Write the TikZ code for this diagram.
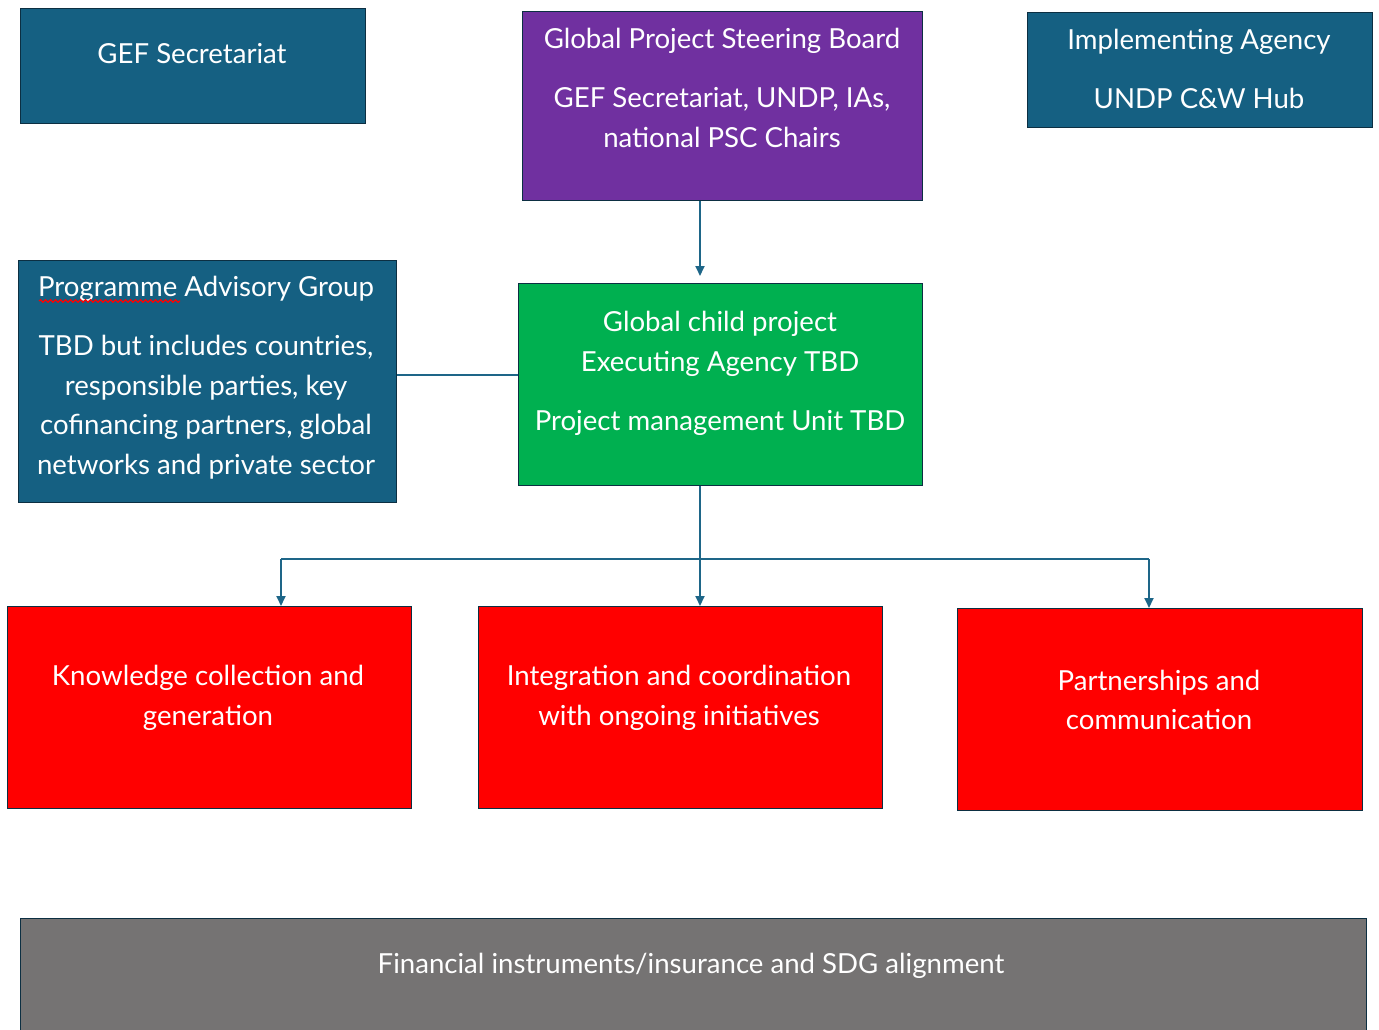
\documentclass[tikz,border=0pt]{standalone}
\usepackage{fontspec}
\setmainfont{Lato}
\usetikzlibrary{arrows.meta,decorations.pathmorphing}
\definecolor{bluebox}{HTML}{156082}
\definecolor{purplebox}{HTML}{7030A0}
\definecolor{greenbox}{HTML}{00B050}
\definecolor{redbox}{HTML}{FF0000}
\definecolor{graybox}{HTML}{757373}
\definecolor{outl}{HTML}{0C2F42}
\definecolor{conncol}{HTML}{1E6688}
\begin{document}
\begin{tikzpicture}[x=1pt,y=-1pt,
  box/.style={draw=outl, line width=1.4pt, inner sep=0pt, anchor=north west},
  txt/.style={text=white, font=\fontsize{27.6}{39.5}\selectfont, align=center, inner sep=0pt},
  conn/.style={draw=conncol, line width=1.8pt},
  arr/.style={conn, -{Triangle[length=10pt,width=9pt]}}]
\useasboundingbox (0,0) rectangle (1379,1030);
\clip (0,0) rectangle (1379,1030);
% boxes
\node[box, fill=bluebox, minimum width=345pt, minimum height=115pt] (gef) at (20,8) {};
\node[box, fill=purplebox, minimum width=400pt, minimum height=189pt] (steer) at (522,11) {};
\node[box, fill=bluebox, minimum width=345pt, minimum height=115pt] (impl) at (1027,12) {};
\node[box, fill=bluebox, minimum width=378pt, minimum height=242pt] (pag) at (18,260) {};
\node[box, fill=greenbox, minimum width=404pt, minimum height=202pt] (green) at (518,283) {};
\node[box, fill=redbox, minimum width=404pt, minimum height=202pt] (red1) at (7,606) {};
\node[box, fill=redbox, minimum width=404pt, minimum height=202pt] (red2) at (478,606) {};
\node[box, fill=redbox, minimum width=405pt, minimum height=202pt] (red3) at (957,608) {};
\node[box, fill=graybox, minimum width=1346pt, minimum height=130pt] (fin) at (20,918) {};
% texts
\node[txt] (geft) at (192,54) {GEF Secretariat};
\node[txt] (steert) at (722,88) {Global Project Steering Board\\[19.5pt]GEF Secretariat, UNDP, IAs,\\national PSC Chairs};
\node[txt] (implt) at (1199,68.5) {Implementing Agency\\[19.5pt]UNDP C\&W Hub};
\node[txt] (pagt) at (206,377.5) {Programme Advisory Group\\[19.5pt]TBD but includes countries,\\responsible parties, key\\cofinancing partners, global\\networks and private sector};
\node[txt] (greent) at (720,373.5) {Global child project\\Executing Agency TBD\\[19.5pt]Project management Unit TBD};
\node[txt] (red1t) at (208,698) {Knowledge collection and\\generation};
\node[txt] (red2t) at (679,698) {Integration and coordination\\with ongoing initiatives};
\node[txt] (red3t) at (1159,700) {Partnerships and\\communication};
\node[txt] (fint) at (691,966) {Financial instruments/insurance and SDG alignment};
% spell-check underline
\draw[red, line width=1.2pt, decorate, decoration={snake, amplitude=1.3pt, segment length=5pt}] (39,301) -- (180,301);
% connectors
\draw[arr] (steer.south -| 700,0) -- (700,276);
\draw[conn] (pag.east |- 0,375) -- (green.west |- 0,375);
\coordinate (jl) at (281,559);
\coordinate (jr) at (1149,559);
\draw[conn] (jl) -- (jr);
\draw[arr] (green.south -| 700,0) -- (red2.north -| 700,0);
\draw[arr] (jl) -- (red1.north -| jl);
\draw[arr] (jr) -- (red3.north -| jr);
\end{tikzpicture}
\end{document}
